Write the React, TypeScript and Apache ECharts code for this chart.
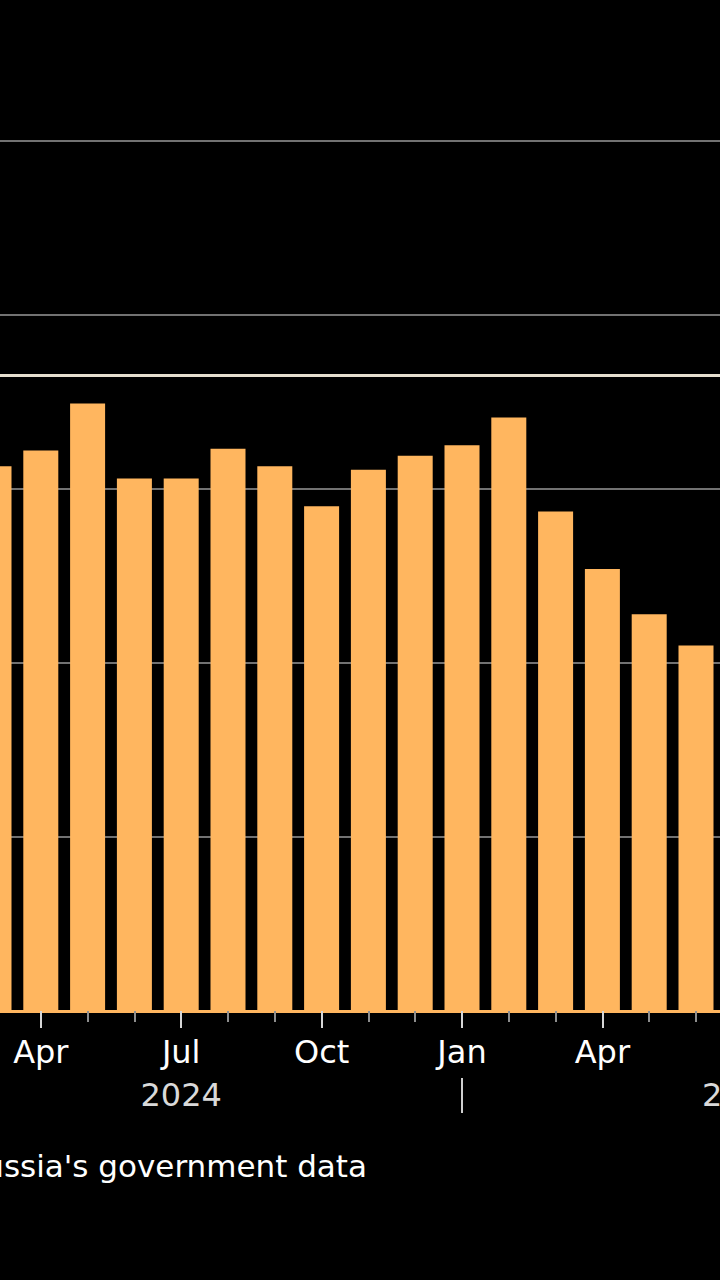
import React, { useEffect, useRef } from "react";
import * as echarts from "echarts";

// Monthly categories (Mar 2024 .. Jul 2025; Jul 2025 lies beyond the visible crop)
const categories = [
  "2024-03", "2024-04", "2024-05", "2024-06", "2024-07", "2024-08", "2024-09",
  "2024-10", "2024-11", "2024-12", "2025-01", "2025-02", "2025-03", "2025-04",
  "2025-05", "2025-06", "2025-07",
];

// Bar values in gridline units
const values: (number | null)[] = [
  3.13, 3.22, 3.49, 3.06, 3.06, 3.23, 3.13, 2.9, 3.11, 3.19, 3.25, 3.41,
  2.87, 2.54, 2.28, 2.1, null,
];

// Highlighted reference level
const referenceLevel = 3.65;

// Value axis (labels not visible in the crop)
const yMin = 0;
const yMax = 5;
const yInterval = 1;

const monthAbbr = ["Jan", "Feb", "Mar", "Apr", "May", "Jun", "Jul", "Aug", "Sep", "Oct", "Nov", "Dec"];
const quarterMonths = ["01", "04", "07", "10"];
const yearLabelMonth = "07";
const yearSeparatorMonth = "01";

const sourceNote = "Source: Bloomberg calculations based on Russia's government data";

const BAR = "#ffb65f";
const FONT = "DejaVu Sans";

// container is shifted left so that the chart appears cropped like the reference
const SHIFT = 40;

export default function App() {
  const ref = useRef<HTMLDivElement>(null);

  useEffect(() => {
    if (!ref.current) return;
    const chart = echarts.init(ref.current, undefined, { renderer: "svg" });
    const month = (v: string) => v.slice(5, 7);

    chart.setOption({
      animation: false,
      backgroundColor: "#000000",
      grid: {
        left: 10.6,
        right: 13.8,
        top: 140.7,
        bottom: 269,
        containLabel: false,
        outerBoundsMode: "none",
      },
      xAxis: [
        {
          type: "category",
          data: categories,
          position: "bottom",
          axisLine: { show: true, lineStyle: { color: BAR, width: 3 } },
          axisTick: {
            show: true,
            alignWithLabel: true,
            interval: 0,
            length: 11,
            lineStyle: { color: "#8e8e8e", width: 2 },
          },
          axisLabel: { show: false },
          splitLine: { show: false },
        },
        {
          type: "category",
          data: categories,
          position: "bottom",
          axisLine: { show: false },
          axisTick: {
            show: true,
            alignWithLabel: true,
            interval: (_i: number, v: string) => quarterMonths.includes(month(v)),
            length: 17,
            lineStyle: { color: "#d6d6d6", width: 2 },
          },
          axisLabel: {
            show: true,
            interval: (_i: number, v: string) => quarterMonths.includes(month(v)),
            formatter: (v: string) => monthAbbr[parseInt(month(v), 10) - 1],
            color: "#ffffff",
            fontSize: 32,
            fontFamily: FONT,
            margin: 25,
          },
          splitLine: { show: false },
        },
        {
          type: "category",
          data: categories,
          position: "bottom",
          offset: 67,
          axisLine: { show: false },
          axisTick: {
            show: true,
            alignWithLabel: true,
            interval: (_i: number, v: string) => month(v) === yearSeparatorMonth,
            length: 35,
            lineStyle: { color: "#cfcfcf", width: 2 },
          },
          axisLabel: {
            show: true,
            interval: (_i: number, v: string) => month(v) === yearLabelMonth,
            formatter: (v: string) => v.slice(0, 4),
            color: "#d9d9d9",
            fontSize: 32,
            fontFamily: FONT,
            margin: 1,
          },
          splitLine: { show: false },
        },
      ],
      yAxis: {
        type: "value",
        min: yMin,
        max: yMax,
        interval: yInterval,
        axisLine: { show: false },
        axisTick: { show: false },
        axisLabel: { show: false },
        splitLine: { show: true, lineStyle: { color: "#727272", width: 2 } },
      },
      series: [
        {
          type: "bar",
          xAxisIndex: 0,
          data: values,
          barWidth: 35,
          itemStyle: { color: BAR },
          markLine: {
            silent: true,
            symbol: "none",
            label: { show: false },
            lineStyle: { color: "#e6dfcf", width: 3, type: "solid" },
            data: [{ yAxis: referenceLevel }],
          },
        },
      ],
      graphic: [
        {
          type: "text",
          x: 367 + SHIFT,
          y: 1166,
          style: {
            text: sourceNote,
            fill: "#ffffff",
            font: `31px "${FONT}"`,
            align: "right",
            verticalAlign: "middle",
          },
        },
      ],
    });

    return () => chart.dispose();
  }, []);

  return (
    <div
      ref={ref}
      style={{
        position: "fixed",
        left: -SHIFT,
        top: 0,
        width: 820,
        height: 1280,
        background: "#000",
      }}
    />
  );
}
